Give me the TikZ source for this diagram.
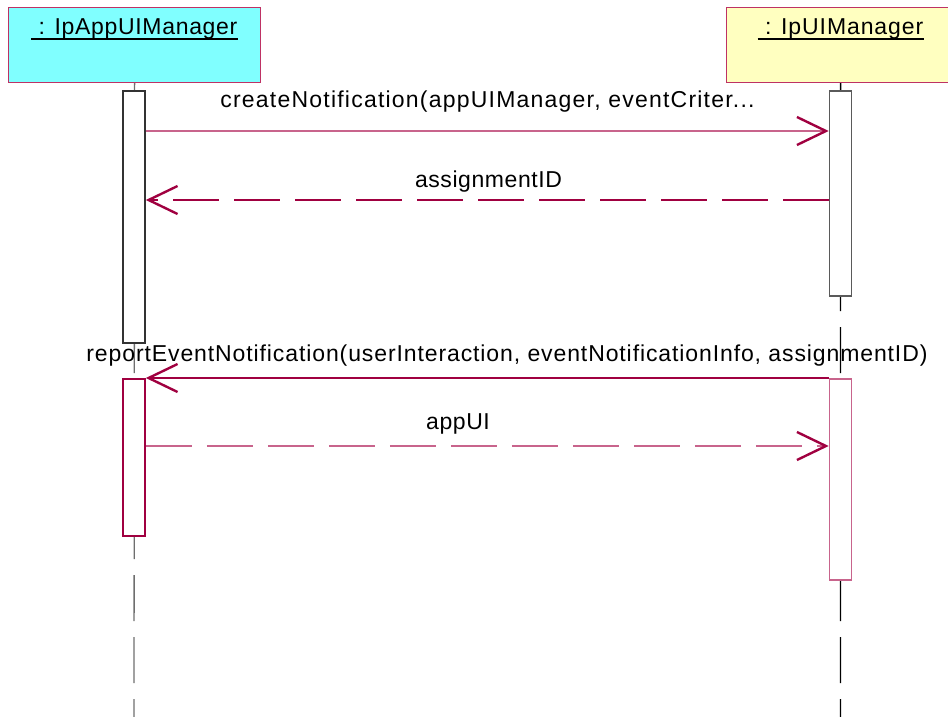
\documentclass[tikz,border=0pt]{standalone}
\usepackage{fontspec}
\setmainfont{Liberation Sans}
\usetikzlibrary{arrows.meta}
\definecolor{crim}{RGB}{160,0,64}
\definecolor{pinkl}{RGB}{200,100,140}
\definecolor{boxb}{RGB}{190,50,100}
\definecolor{cyanf}{RGB}{128,255,255}
\definecolor{yelf}{RGB}{255,255,192}
\definecolor{lgray}{RGB}{110,110,110}
\definecolor{dgray}{RGB}{90,90,90}
\tikzset{
  objbox/.style={draw=boxb, line width=1.2pt, anchor=north west, inner sep=0pt},
  actbox/.style={fill=white, line width=1.6pt, anchor=north, minimum width=22pt, inner sep=0pt},
  life/.style={line width=1.3pt, dash pattern=on 46pt off 16pt, dash phase=4pt},
  lbl/.style={anchor=base, inner sep=0pt, font=\fontsize{23}{27}\selectfont},
  tip/.tip={Straight Barb[length=29pt, width=28pt, line width=2.4pt, color=crim]},
  msg/.style={line width=1.4pt, -tip},
  dsh/.style={dash pattern=on 46pt off 15pt}
}
\begin{document}
\begin{tikzpicture}[x=1pt, y=-1pt]
\useasboundingbox (0,0) rectangle (948,717);
% objects
\node[objbox, fill=cyanf, minimum width=252pt, minimum height=75pt] (A) at (8,7) {};
\node[objbox, fill=yelf, minimum width=228pt, minimum height=75pt] (B) at (726,7) {};
\node[lbl] (At) at (134.5,35) {\addfontfeature{LetterSpace=3}\ : IpAppUIManager};
\node[lbl] (Bt) at (840.5,35) {\addfontfeature{LetterSpace=4}\ : IpUIManager};
\draw[line width=1.3pt] ([yshift=-4pt]At.base west) -- ([yshift=-4pt]At.base east);
\draw[line width=1.3pt] ([yshift=-4pt]Bt.base west) -- ([yshift=-4pt]Bt.base east);
% lifelines
\coordinate (Aend) at (134,717);
\coordinate (Bend) at (840.5,717);
\draw[life, lgray] (A.south) -- (Aend);
\draw[life, black] (B.south) -- (Bend);
% activations
\node[actbox, draw=black!80, minimum height=252pt] (a1) at (134,90) {};
\node[actbox, draw=dgray, minimum height=205pt] (b1) at (840.5,90) {};
\node[actbox, draw=crim, minimum height=157pt] (a2) at (134,378) {};
\node[actbox, draw=pinkl, minimum height=201pt] (b2) at (840.5,378) {};
% messages
\draw[msg, pinkl] ([yshift=-41pt]a1.north east) -- ([yshift=-41pt]b1.north west);
\draw[msg, dsh, crim] ([yshift=-110pt]b1.north west) -- ([yshift=-110pt]a1.north east);
\draw[msg, crim] (b2.north west) -- (a2.north east);
\draw[msg, dsh, pinkl] ([yshift=-68pt]a2.north east) -- ([yshift=-68pt]b2.north west);
% labels
\node[lbl] (m1) at (487.5,107) {\addfontfeature{LetterSpace=5.3}createNotification(appUIManager, eventCriter...};
\node[lbl] (m2) at (488.5,187) {\addfontfeature{LetterSpace=2.5}assignmentID};
\node[lbl] (m3) at (507,361) {\addfontfeature{LetterSpace=3.9}reportEventNotification(userInteraction, eventNotificationInfo, assignmentID)};
\node[lbl] (m4) at (458,429) {\addfontfeature{LetterSpace=2.5}appUI};
\end{tikzpicture}
\end{document}
